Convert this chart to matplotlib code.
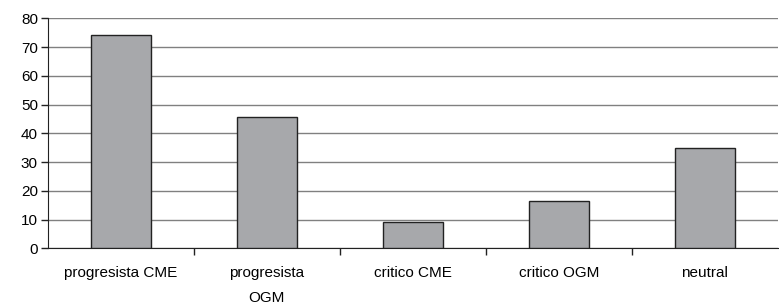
import matplotlib.pyplot as plt
import numpy as np

plt.rcParams['font.family'] = ['Liberation Sans', 'DejaVu Sans']

categories = ["progresista CME", "progresista\nOGM", "critico CME", "critico OGM", "neutral"]
values = [74.3, 45.7, 9.0, 16.3, 35.0]
yticks = [0, 10, 20, 30, 40, 50, 60, 70, 80]

fig = plt.figure(figsize=(7.79, 3.04), dpi=100)
ax = fig.add_axes([0.0612, 0.183, 0.9375, 0.757])

x = np.arange(len(categories))
ax.bar(x, values, width=0.41, color="#a7a8ab", edgecolor="#222222", linewidth=1.0, zorder=3)

ax.set_xlim(-0.5, len(categories) - 0.5)
ax.set_ylim(0, 80)
ax.set_yticks(yticks)
ax.yaxis.grid(True, color="#808080", linewidth=1.0, zorder=0)

ax.set_xticks(x)
ax.set_xticklabels(categories, linespacing=2.0, va="top")
ax.set_xticks(np.arange(0.5, len(categories) - 0.5, 1), minor=True)
ax.tick_params(axis="x", which="major", length=0, pad=13, labelsize=11)
ax.tick_params(axis="x", which="minor", length=5, width=1, color="#222222", direction="out")
ax.tick_params(axis="y", length=5, width=1, color="#222222", labelsize=11, pad=2)

for s in ["top", "right"]:
    ax.spines[s].set_visible(False)
ax.spines["left"].set_color("#222222")
ax.spines["bottom"].set_color("#222222")

fig.savefig("out.png", dpi=100)
